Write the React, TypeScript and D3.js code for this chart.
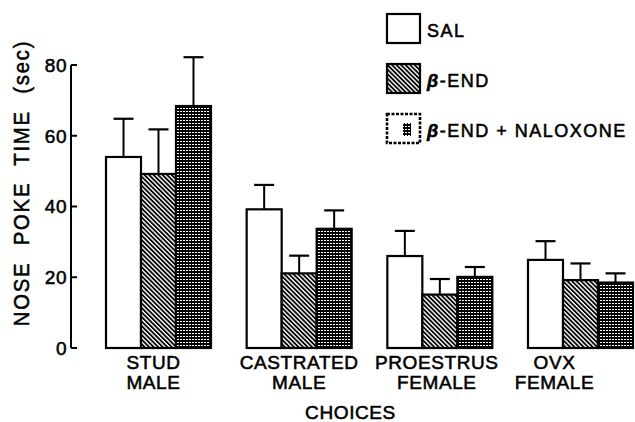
import React from "react";
import * as d3 from "d3";

const categories = ["STUD MALE", "CASTRATED MALE", "PROESTRUS FEMALE", "OVX FEMALE"];
const categoryLines = [["STUD", "MALE"], ["CASTRATED", "MALE"], ["PROESTRUS", "FEMALE"], ["OVX", "FEMALE"]];
const seriesNames = ["SAL", "β-END", "β-END + NALOXONE"];
const salMeans = [54, 39.2, 26, 24.9];
const salSem = [10.8, 6.9, 7.1, 5.3];
const betaEndMeans = [49.2, 21.1, 15.1, 19.2];
const betaEndSem = [12.6, 5, 4.4, 4.7];
const naloxoneMeans = [68.4, 33.7, 20.1, 18.5];
const naloxoneSem = [13.8, 5.2, 2.8, 2.6];
const yTicks = [0, 20, 40, 60, 80];

const W = 635;
const H = 422;
const FONT = "'Liberation Sans', Arial, Helvetica, sans-serif";
const labelDx = [-5, 0, -3, -26];
const TS = { stroke: "#000", strokeWidth: 0.55 };

export default function App() {
  const y = d3.scaleLinear().domain([0, 80]).range([348, 65]);
  const x0 = d3.scaleBand<string>().domain(categories).range([106, 633]).paddingInner(0.2536).paddingOuter(0);
  const x1 = d3.scaleBand<string>().domain(seriesNames).range([0, x0.bandwidth()]);
  const means = [salMeans, betaEndMeans, naloxoneMeans];
  const sems = [salSem, betaEndSem, naloxoneSem];
  const fills = ["#ffffff", "url(#hatch)", "url(#nal)"];
  const axisX = 71;

  return (
    <svg width={W} height={H} style={{ position: "absolute", left: 0, top: 0, background: "#fff" }} fontFamily={FONT}>
      <defs>
        <pattern id="hatch" width="3.2" height="3.2" patternUnits="userSpaceOnUse" patternTransform="rotate(-45)">
          <rect width="3.2" height="3.2" fill="#fff" />
          <rect x="0" y="0" width="1.8" height="3.2" fill="#000" />
        </pattern>
        <pattern id="nal" width="3" height="3" patternUnits="userSpaceOnUse">
          <rect width="3" height="3" fill="#000" />
          <rect x="0" y="0" width="2" height="1" fill="#fff" />
        </pattern>
      </defs>

      {/* bars */}
      {categories.map((c, ci) => (
        <g key={c}>
          {seriesNames.map((s, si) => {
            const bx = (x0(c) as number) + (x1(s) as number);
            const bw = x1.bandwidth();
            const m = means[si][ci];
            const top = y(m);
            const errTop = y(m + sems[si][ci]);
            const cx = bx + bw / 2;
            return (
              <g key={s}>
                <line x1={cx} x2={cx} y1={top} y2={errTop} stroke="#000" strokeWidth={2} />
                <line x1={cx - 10} x2={cx + 10} y1={errTop} y2={errTop} stroke="#000" strokeWidth={2.2} />
                <rect x={bx} y={top} width={bw} height={y(0) - top} fill={fills[si]} stroke="#000" strokeWidth={2.2} />
              </g>
            );
          })}
        </g>
      ))}

      {/* y axis */}
      <line x1={axisX} x2={axisX} y1={y(80)} y2={y(0)} stroke="#000" strokeWidth={2} />
      {yTicks.map((t) => (
        <g key={t}>
          <line x1={axisX} x2={axisX + 6} y1={y(t)} y2={y(t)} stroke="#000" strokeWidth={2} />
          <text x={axisX - 4} y={y(t)} dy="0.36em" textAnchor="end" fontSize={19} letterSpacing={0.5} {...TS}>
            {t}
          </text>
        </g>
      ))}
      <text
        transform={`translate(29,183) rotate(-90) scale(0.9,1)`}
        textAnchor="middle"
        fontSize={22.5}
        wordSpacing={10}
        letterSpacing={2}
        {...TS}
      >
        NOSE POKE TIME (sec)
      </text>

      {/* category labels */}
      {categories.map((c, ci) => {
        const cx = (x0(c) as number) + x0.bandwidth() / 2 + labelDx[ci];
        return (
          <text key={c} textAnchor="middle" fontSize={19} letterSpacing={0.6} {...TS}>
            <tspan x={cx} y={369}>{categoryLines[ci][0]}</tspan>
            <tspan x={cx} y={389}>{categoryLines[ci][1]}</tspan>
          </text>
        );
      })}
      <text x={350.5} y={419} textAnchor="middle" fontSize={19} letterSpacing={0.6} {...TS}>
        CHOICES
      </text>

      {/* legend */}
      {seriesNames.map((s, si) => {
        const ly = 14 + si * 50;
        return (
          <g key={s}>
            {si < 2 ? (
              <rect x={387} y={ly} width={33} height={29} fill={fills[si]} stroke="#000" strokeWidth={2.2} />
            ) : (
              <g>
                <rect x={387} y={ly} width={33} height={29} fill="#fff" stroke="#000" strokeWidth={2.6} strokeDasharray="3 1.5" />
                <rect x={403} y={ly + 9} width={8} height={13} fill="url(#nal)" />
              </g>
            )}
            <text x={427} y={ly + 23} fontSize={18} letterSpacing={1.5} {...TS}>
              {s.startsWith("β") ? (
                <>
                  <tspan fontStyle="italic" fontWeight="bold">β</tspan>
                  <tspan>{s.slice(1)}</tspan>
                </>
              ) : (
                s
              )}
            </text>
          </g>
        );
      })}
    </svg>
  );
}
